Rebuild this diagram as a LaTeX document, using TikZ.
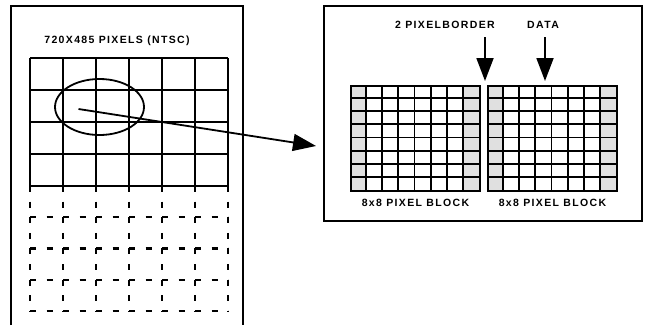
\documentclass[tikz,border=0pt]{standalone}
\usepackage{fontspec}
\setmainfont{Liberation Sans}
\usetikzlibrary{arrows.meta,positioning,shapes.geometric}
\definecolor{edgecell}{HTML}{E0E0E0}
\tikzset{
  >={Triangle[length=23pt,width=17pt]},
  frame/.style={line width=2pt},
  grid/.style={line width=2.3pt},
  hdash/.style={line width=2.4pt,dash pattern=on 6pt off 10.5pt},
  vdash/.style={line width=2.4pt,dash pattern=on 6pt off 9.6pt},
  blk/.style={draw,line width=2pt,minimum width=129pt,minimum height=105pt,anchor=north west,inner sep=0pt},
  cell/.style={line width=1.9pt},
  lab/.style={font=\fontsize{10.5}{12}\selectfont\bfseries\addfontfeatures{LetterSpace=13},inner sep=0pt},
  bigarr/.style={->,line width=1.8pt},
}
\begin{document}
\begin{tikzpicture}[x=1pt,y=-1pt]
\useasboundingbox (0,0) rectangle (645,325);
% frame of the picture
\draw[frame] (11,325) -- (11,6) -- (243,6) -- (243,325);
\node[lab] (title) at (117,41) {720X485 PIXELS (NTSC)};
% solid part
\foreach \i in {0,...,6} \draw[grid] ({30+33*\i},58) -- ({30+33*\i},186);
\foreach \j in {0,...,4} \draw[grid] (30,{58+32*\j}) -- (228,{58+32*\j});
% dashed part
\foreach \i in {0,...,6} \draw[vdash] ({30+33*\i},186) -- ({30+33*\i},311);
\foreach \j in {1,...,4} \draw[hdash] (30,{186+31.25*\j}) -- (228,{186+31.25*\j});
\node[draw,ellipse,line width=1.8pt,minimum width=89pt,minimum height=56pt] (zoom) at (99.5,107) {};
% right panel
\draw[frame] (324,6) rectangle (642,221);
\coordinate (ztip) at (316,146);
\draw[bigarr] ([xshift=-21pt,yshift=-2pt]zoom.center) -- (ztip);
\foreach \bx/\nm in {350/blkA,487/blkB}{
  \fill[edgecell] (\bx,85) rectangle ++(16.1,105);
  \fill[edgecell] ({\bx+112.9},85) rectangle ++(16.1,105);
  \node[blk] (\nm) at (\bx,85) {};
  \foreach \k in {1,...,7}{
    \draw[cell] ({\bx+16.125*\k},85) -- ++(0,105);
    \draw[cell] (\bx,{85+13.125*\k}) -- ++(129,0);
  }
  \node[lab,below=7pt of \nm] (cap\nm) {8x8 PIXEL BLOCK};
}
\node[lab] (lblborder) at (445,25) {2 PIXELBORDER};
\node[lab] (lbldata) at (543,25) {DATA};
\coordinate (bt) at (485,37); \coordinate (bh) at (485,81);
\coordinate (dt) at (545,37); \coordinate (dh) at (545,81);
\draw[bigarr] (bt) -- (bh);
\draw[bigarr] (dt) -- (dh);
\end{tikzpicture}
\end{document}
